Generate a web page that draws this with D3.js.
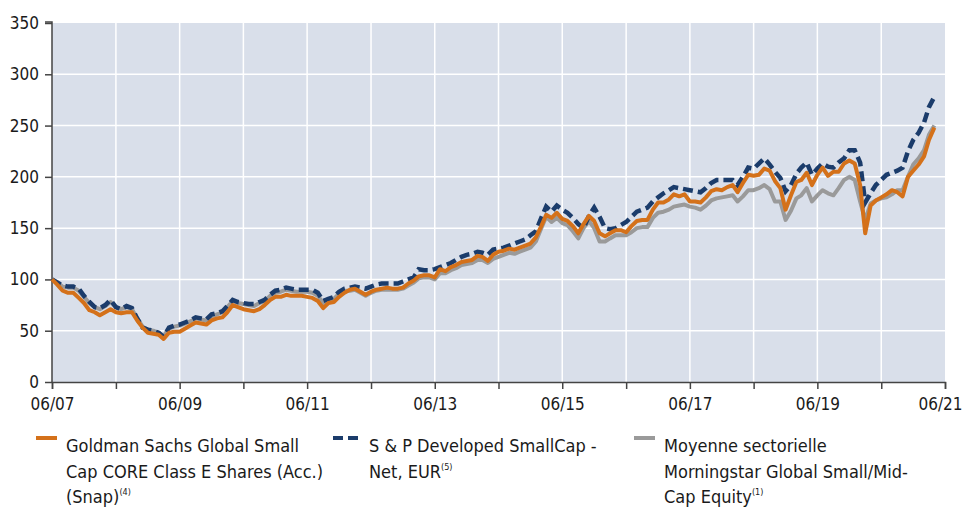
<!DOCTYPE html>
<html>
<head>
<meta charset="utf-8">
<script src="https://cdn.jsdelivr.net/npm/d3@7"></script>
<style>
  body { margin: 0; background: #fff; }
  svg text { font-family: "Liberation Sans Narrow", "DejaVu Sans Condensed", sans-serif; fill: #1a1a1a; }
</style>
</head>
<body>
<svg id="chart" width="965" height="508"></svg>
<script>
// monthly values, first point = June 2007
var startMonth = new Date(2007, 5, 1);

var fundValues = [
    100, 95, 89, 87, 87, 82, 77, 70, 68, 65, 68, 71, 68, 67, 68, 68, 60, 53, 48, 47,
    46, 42, 48, 49, 49, 52, 55, 58, 57, 56, 60, 62, 63, 68, 75, 73, 71, 70, 69, 71,
    75, 80, 83, 83, 85, 84, 84, 84, 83, 82, 79, 72, 77, 78, 83, 87, 90, 91, 88, 85,
    88, 90, 91, 92, 91, 91, 92, 96, 99, 103, 104, 104, 102, 110, 108, 112, 114, 117, 118, 119,
    123, 122, 118, 124, 127, 128, 130, 129, 131, 133, 135, 141, 152, 163, 160, 165, 159, 157, 152, 145,
    154, 162, 157, 145, 142, 145, 148, 148, 146, 152, 157, 158, 158, 168, 175, 175, 178, 183, 181, 183,
    176, 176, 175, 180, 186, 188, 187, 190, 192, 185, 194, 202, 201, 202, 208, 206, 196, 189, 168, 182,
    195, 197, 204, 192, 202, 209, 201, 205, 205, 213, 216, 213, 192, 145, 172, 177, 180, 183, 187, 185,
    181, 200, 206, 212, 220, 236, 248
];

var indexValues = [
    100, 97, 94, 93, 93, 91, 84, 78, 73, 72, 75, 80, 73, 71, 74, 72, 62, 53, 51, 50,
    48, 44, 53, 55, 56, 58, 60, 63, 62, 61, 66, 67, 69, 74, 80, 78, 77, 76, 76, 78,
    80, 85, 89, 90, 92, 91, 90, 90, 90, 90, 87, 79, 81, 83, 88, 91, 92, 93, 92, 91,
    93, 95, 96, 96, 96, 96, 98, 100, 102, 110, 109, 109, 110, 112, 114, 116, 119, 122, 124, 125,
    127, 126, 124, 129, 130, 131, 133, 135, 137, 139, 143, 147, 160, 171, 166, 172, 168, 165, 160, 154,
    150, 162, 170, 161, 150, 149, 150, 153, 156, 161, 166, 168, 170, 176, 180, 184, 187, 190, 189, 188,
    187, 186, 185, 189, 194, 197, 197, 197, 197, 192, 200, 209, 208, 213, 218, 212, 205, 199, 186, 192,
    203, 209, 214, 202, 208, 213, 210, 209, 214, 218, 226, 226, 214, 175, 184, 192, 197, 202, 204, 206,
    209, 225, 236, 243, 253, 268, 278
];

var sectorValues = [
    100, 97, 93, 92, 92, 89, 83, 77, 73, 71, 74, 78, 73, 71, 73, 71, 62, 54, 51, 50,
    48, 45, 52, 54, 55, 57, 59, 62, 61, 60, 64, 66, 68, 73, 79, 77, 76, 75, 74, 77,
    79, 84, 87, 88, 90, 89, 88, 88, 88, 87, 84, 77, 80, 81, 86, 89, 89, 90, 87, 84,
    87, 89, 90, 90, 90, 90, 91, 94, 97, 101, 102, 102, 100, 106, 106, 109, 111, 114, 115, 116,
    119, 119, 116, 120, 122, 124, 126, 125, 127, 129, 131, 137, 150, 161, 156, 160, 155, 153, 147, 140,
    150, 157, 150, 137, 137, 140, 143, 143, 143, 146, 150, 151, 151, 160, 165, 166, 168, 171, 172, 173,
    171, 170, 168, 172, 177, 179, 180, 181, 182, 176, 181, 187, 187, 189, 192, 188, 176, 176, 158, 167,
    179, 182, 189, 176, 182, 187, 184, 182, 189, 197, 200, 197, 176, 158, 174, 177, 179, 180, 183, 187,
    187, 200, 212, 218, 226, 241, 250
];

var yTicks = [0, 50, 100, 150, 200, 250, 300, 350];
var xLabelYears = [2007, 2009, 2011, 2013, 2015, 2017, 2019, 2021];

var legendItems = [
    { lines: ['Goldman Sachs Global Small', 'Cap CORE Class E Shares (Acc.)', '(Snap)'], sup: '(4)', key: 'fund' },
    { lines: ['S & P Developed SmallCap -', 'Net, EUR'], sup: '(5)', key: 'index' },
    { lines: ['Moyenne sectorielle', 'Morningstar Global Small/Mid-', 'Cap Equity'], sup: '(1)', key: 'sector' }
];

var C = {
    bg: '#d9dfea',
    fund: '#d4711a',
    index: '#1b3c6b',
    sector: '#9a9a9a',
    axis: '#444'
};

var svg = d3.select('#chart');
var m = { left: 52, right: 945, top: 23, bottom: 382 };

var x = d3.scaleTime()
    .domain([new Date(2007, 5, 1), new Date(2021, 5, 1)])
    .range([m.left, m.right]);
var y = d3.scaleLinear().domain([0, 350]).range([m.bottom, m.top]);

function toPoints(vals) {
    return vals.map(function (v, i) {
        return { date: d3.timeMonth.offset(startMonth, i), v: v };
    });
}

// background
svg.append('rect')
    .attr('x', m.left).attr('y', m.top)
    .attr('width', m.right - m.left).attr('height', m.bottom - m.top)
    .attr('fill', C.bg);

var years = d3.range(2007, 2022).map(function (yr) { return new Date(yr, 5, 1); });

// grid
svg.append('g').selectAll('line').data(years.slice(1, -1)).enter().append('line')
    .attr('x1', function (d) { return x(d); }).attr('x2', function (d) { return x(d); })
    .attr('y1', m.top).attr('y2', m.bottom)
    .attr('stroke', '#fff').attr('stroke-width', 1.5);
svg.append('g').selectAll('line').data(yTicks.slice(1, -1)).enter().append('line')
    .attr('x1', m.left).attr('x2', m.right)
    .attr('y1', function (d) { return y(d); }).attr('y2', function (d) { return y(d); })
    .attr('stroke', '#fff').attr('stroke-width', 1.5);

// axes
var yAxis = d3.axisLeft(y).tickValues(yTicks).tickSize(7).tickPadding(6);
var gy = svg.append('g').attr('transform', 'translate(' + m.left + ',0)').call(yAxis);
var xAxis = d3.axisBottom(x).tickValues(years).tickSize(7).tickPadding(9)
    .tickFormat(function (d) {
        return xLabelYears.indexOf(d.getFullYear()) >= 0 ? d3.timeFormat('%m/%y')(d) : '';
    });
var gx = svg.append('g').attr('transform', 'translate(0,' + m.bottom + ')').call(xAxis);
[gx, gy].forEach(function (g) {
    g.select('.domain').attr('stroke', C.axis).attr('stroke-width', 1.5);
    g.selectAll('.tick line').attr('stroke', C.axis).attr('stroke-width', 1.5);
    g.selectAll('text').attr('font-size', 17).attr('fill', '#1a1a1a')
        .attr('font-family', '"Liberation Sans Narrow", "DejaVu Sans Condensed", sans-serif');
});
gy.select('.domain').attr('d', 'M0,' + m.bottom + 'V' + (m.top - 1) + 'H-7');
// last label sits right of the plot edge, keep it inside the page
gx.selectAll('.tick text').filter(function (d) { return d.getFullYear() === 2021; })
    .attr('text-anchor', 'end').attr('x', 17);

// lines
var line = d3.line()
    .x(function (d) { return x(d.date); })
    .y(function (d) { return y(d.v); });

svg.append('path').datum(toPoints(sectorValues))
    .attr('d', line).attr('fill', 'none')
    .attr('stroke', C.sector).attr('stroke-width', 4).attr('stroke-linejoin', 'round');
svg.append('path').datum(toPoints(indexValues))
    .attr('d', line).attr('fill', 'none')
    .attr('stroke', C.index).attr('stroke-width', 4.5).attr('stroke-dasharray', '10,5');
svg.append('path').datum(toPoints(fundValues))
    .attr('d', line).attr('fill', 'none')
    .attr('stroke', C.fund).attr('stroke-width', 4).attr('stroke-linejoin', 'round');

// legend
var legX = [36, 333, 634];
legendItems.forEach(function (item, i) {
    var g = svg.append('g').attr('transform', 'translate(' + legX[i] + ',0)');
    if (item.key === 'index') {
        g.append('rect').attr('x', 0).attr('y', 436).attr('width', 10).attr('height', 4).attr('fill', C.index);
        g.append('rect').attr('x', 15).attr('y', 436).attr('width', 10).attr('height', 4).attr('fill', C.index);
    } else {
        g.append('rect').attr('x', 0).attr('y', 436).attr('width', 21).attr('height', 4).attr('fill', C[item.key]);
    }
    var tx = item.key === 'index' ? 36 : 30;
    var t = g.append('text').attr('x', tx).attr('y', 452).attr('font-size', 18);
    item.lines.forEach(function (l, j) {
        t.append('tspan').attr('x', tx).attr('dy', j === 0 ? 0 : 25.5).text(l);
    });
    t.append('tspan').attr('font-size', 9).attr('dy', -8).text(item.sup);
});
</script>
</body>
</html>
